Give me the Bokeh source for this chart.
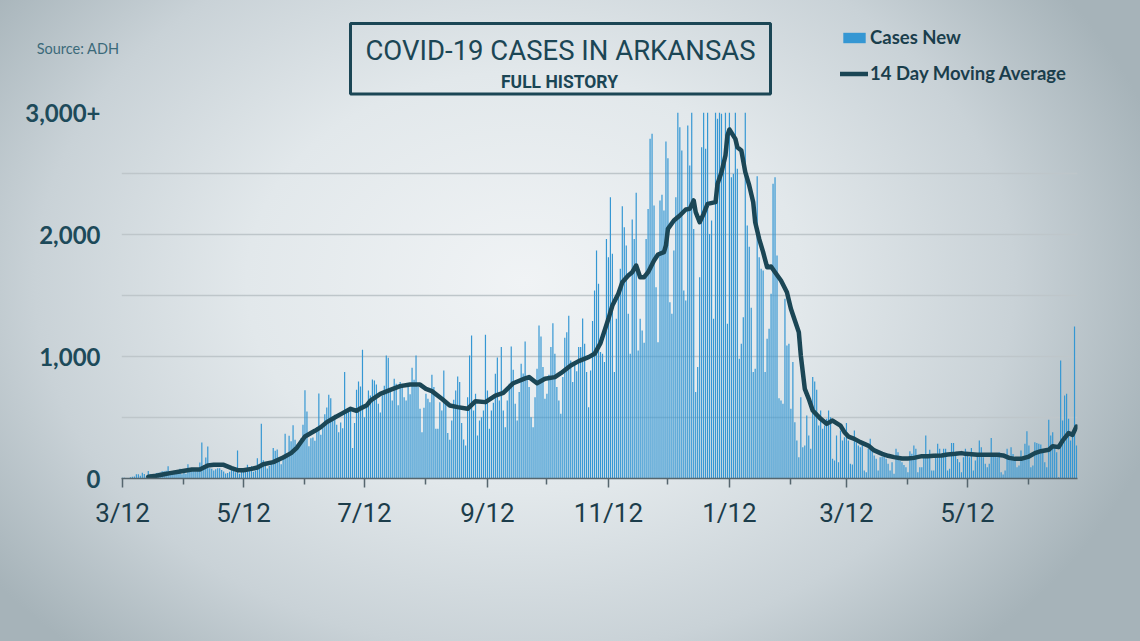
import pandas as pd
from bokeh.plotting import figure
from bokeh.layouts import column
from bokeh.models import (FixedTicker, Label, Legend, LegendItem, ColumnDataSource,
                          Range1d, BoxAnnotation, LinearAxis)
from bokeh.embed import file_html
from bokeh.resources import INLINE

# ---------------- data ----------------
start_date = "2020-03-12"

cases_new = [
    6, 6, 3, 4, 11, 15, 16,
    34, 34, 22, 47, 36, 17, 62,
    36, 32, 27, 46, 47, 50, 60,
    59, 64, 100, 56, 36, 42, 69,
    64, 80, 34, 51, 38, 117, 63,
    77, 65, 60, 62, 131, 295, 110,
    172, 262, 84, 80, 66, 75, 85,
    84, 70, 58, 42, 46, 55, 70,
    64, 51, 230, 38, 55, 68, 83,
    112, 95, 101, 55, 66, 167, 88,
    448, 150, 110, 82, 103, 141, 249,
    227, 238, 164, 117, 165, 366, 210,
    350, 305, 437, 317, 276, 276, 330,
    440, 724, 549, 265, 330, 336, 310,
    420, 697, 358, 413, 527, 582, 686,
    658, 490, 522, 440, 380, 460, 412,
    872, 560, 550, 555, 249, 454, 727,
    795, 754, 1055, 503, 600, 721, 680,
    811, 803, 770, 612, 540, 680, 760,
    1008, 989, 720, 639, 817, 776, 600,
    790, 776, 667, 639, 749, 690, 907,
    809, 1008, 749, 571, 380, 580, 694,
    653, 626, 850, 749, 407, 407, 626,
    557, 885, 612, 372, 317, 475, 645,
    721, 836, 790, 454, 320, 270, 667,
    1008, 1172, 557, 694, 352, 475, 503,
    557, 1178, 721, 407, 557, 620, 858,
    992, 639, 1077, 557, 420, 639, 776,
    1082, 891, 612, 475, 708, 940, 860,
    1123, 831, 749, 503, 420, 667, 900,
    1254, 1164, 913, 653, 694, 850, 1077,
    1273, 1022, 749, 640, 530, 831, 1153,
    1199, 1333, 967, 790, 954, 880, 1077,
    1077, 1311, 1104, 872, 585, 885, 1290,
    1541, 1869, 1596, 1036, 1022, 954, 1964,
    1814, 2306, 1842, 872, 1309, 1500, 1719,
    2232, 2060, 1910, 1350, 1022, 2123, 1964,
    2342, 1049, 1309, 1213, 1112, 1964, 2210,
    2784, 2825, 2238, 1568, 1117, 2279, 2325,
    2197, 2762, 2626, 1445, 1350, 1869, 2306,
    3000, 2880, 2689, 1541, 1459, 2893, 2566,
    3000, 2046, 708, 913, 1650, 2716, 3000,
    2702, 3000, 2005, 2115, 1309, 3000, 2948,
    3000, 2989, 2552, 3000, 1268, 3000, 2470,
    2497, 3000, 2538, 981, 1104, 1322, 3000,
    2074, 1900, 1400, 872, 900, 2478, 1814,
    1719, 1705, 872, 1145, 1227, 1514, 2415,
    2470, 1828, 658, 639, 612, 1473, 1090,
    1104, 571, 954, 462, 311, 175, 667,
    257, 270, 516, 352, 243, 831, 795,
    727, 434, 557, 407, 434, 489, 557,
    503, 161, 148, 352, 134, 393, 311,
    339, 454, 311, 120, 115, 393, 298,
    270, 257, 298, 66, 52, 243, 325,
    230, 189, 161, 66, 175, 180, 200,
    161, 120, 66, 134, 38, 243, 216,
    148, 134, 110, 93, 52, 224, 202,
    270, 243, 52, 93, 93, 189, 352,
    175, 235, 66, 66, 202, 284, 243,
    200, 243, 243, 66, 79, 292, 292,
    189, 160, 134, 52, 175, 243, 216,
    175, 251, 66, 148, 200, 311, 257,
    175, 120, 93, 120, 331, 200, 180,
    175, 216, 52, 33, 66, 243, 175,
    257, 200, 153, 93, 107, 230, 175,
    284, 388, 270, 93, 107, 298, 290,
    284, 279, 230, 134, 93, 481, 352,
    380, 257, 216, 11, 967, 475, 680,
    694, 489, 311, 366, 1246, 270,
]

# 14 day moving average, read as (days after start, value)
ma_days = [13, 17, 21, 24, 29, 35, 39, 43, 46, 51, 55, 58, 61, 65, 68, 71, 76, 81, 85, 88,
           92, 97, 100, 103, 107, 111, 115, 118, 120, 123, 125, 130, 135, 140, 145, 150, 153,
           156, 161, 165, 169, 174, 178, 183, 188, 192, 197, 203, 205, 209, 213, 218, 221,
           226, 230, 235, 238, 241, 245, 247, 250, 252, 255, 257, 259, 261, 263, 265, 268,
           270, 273, 274, 275, 278, 281, 284, 286, 288, 289, 291, 293, 295, 299, 300, 302,
           304, 305, 306, 309, 310, 312, 314, 316, 318, 319, 321, 323, 325, 327, 329, 332,
           335, 337, 339, 341, 342, 344, 346, 348, 352, 355, 358, 362, 364, 366, 369, 372,
           376, 379, 383, 386, 389, 393, 396, 399, 403, 406, 409, 413, 416, 420, 423, 425,
           428, 431, 435, 438, 441, 444, 447, 450, 453, 457, 460, 463, 467, 469, 472, 474,
           477, 479, 481]
ma_values = [15, 22, 35, 44, 57, 74, 74, 107, 112, 112, 85, 68, 68, 79, 90, 117, 134, 172, 208, 254,
             344, 391, 421, 462, 500, 536, 571, 555, 575, 598, 639, 694, 727, 757, 770, 770, 735,
             716, 653, 598, 585, 571, 634, 626, 680, 702, 781, 820, 831, 781, 817, 831, 863,
             926, 962, 995, 1022, 1110, 1309, 1418, 1514, 1609, 1664, 1691, 1746, 1650, 1650, 1691, 1787,
             1836, 1855, 1910, 2046, 2115, 2156, 2205, 2210, 2279, 2183, 2101, 2169, 2251, 2265, 2415, 2511,
             2648, 2811, 2861, 2784, 2716, 2689, 2511, 2402, 2265, 2101, 1964, 1855, 1732, 1738, 1691, 1623,
             1527, 1391, 1295, 1199, 1008, 735, 653, 557, 489, 448, 475, 434, 380, 344, 325, 298,
             270, 230, 202, 186, 175, 164, 164, 169, 183, 183, 186, 189, 197, 202, 208, 202,
             199, 194, 194, 194, 194, 189, 169, 161, 161, 180, 208, 224, 235, 265, 257, 311,
             372, 358, 426]

tick_dates = ["2020-03-12", "2020-05-12", "2020-07-12", "2020-09-12", "2020-11-12",
              "2021-01-12", "2021-03-12", "2021-05-12"]
tick_labels = ["3/12", "5/12", "7/12", "9/12", "11/12", "1/12", "3/12", "5/12"]
minor_tick_dates = ["2020-04-12", "2020-06-12", "2020-08-12", "2020-10-12", "2020-12-12",
                    "2021-02-12", "2021-04-12", "2021-06-12"]
y_ticks = [0, 1000, 2000, 3000]
y_tick_labels = ["0", "1,000", "2,000", "3,000+"]
y_grid = [500, 1000, 1500, 2000, 2500, 3000]

title_text = "COVID-19 CASES IN ARKANSAS"
subtitle_text = "FULL HISTORY"
source_text = "Source: ADH"
series_names = ["Cases New", "14 Day Moving Average"]

# ---------------- styles / layout ----------------
TEAL = "#1b4655"
BLUE = "#3597d3"
W = 1140
FL, FR = 121, 1077          # frame left / right (pixels)
TOP_H = 96                  # header strip height
CHART_H = 641 - TOP_H

t0 = pd.Timestamp(start_date)
day_index = list(range(len(cases_new)))
bars = ColumnDataSource(dict(day=day_index, cases=cases_new,
                             date=[str((t0 + pd.Timedelta(days=d)).date()) for d in day_index]))
line = ColumnDataSource(dict(day=ma_days, avg=ma_values))

# ---------------- header figure (title, source, legend) ----------------
head = figure(width=W, height=TOP_H, output_backend="svg", toolbar_location=None,
              x_range=Range1d(FL, FR), y_range=Range1d(TOP_H, 0),
              x_axis_location=None, y_axis_location=None,
              min_border_left=FL, min_border_right=W - FR,
              min_border_top=0, min_border_bottom=0)
head.border_fill_color = None
head.background_fill_color = None
head.outline_line_color = None
head.grid.visible = False

# source note as a tick-less left axis caption
src_axis = LinearAxis(ticker=FixedTicker(ticks=[]), axis_label=source_text,
                      axis_label_orientation="horizontal", axis_label_standoff=2,
                      axis_line_color=None, major_tick_line_color=None,
                      minor_tick_line_color=None, major_label_text_font_size="0px",
                      major_tick_out=0, major_tick_in=0, minor_tick_out=0,
                      major_label_standoff=0,
                      axis_label_text_font="Lato", axis_label_text_font_style="normal",
                      axis_label_text_font_size="14.5px", axis_label_text_color="#3c6a7a")
head.add_layout(src_axis, "left")

head.add_layout(BoxAnnotation(left=350, right=770, top=23, bottom=93.5,
                              fill_alpha=0, fill_color=None,
                              line_color=TEAL, line_alpha=1, line_width=3))
head.add_layout(Label(x=560, y=50, text=title_text, text_align="center",
                      text_baseline="alphabetic", text_font="Roboto",
                      text_font_size="27.5px", text_color=TEAL))
head.add_layout(Label(x=559, y=81, text=subtitle_text, text_align="center",
                      text_baseline="alphabetic", text_font="Roboto",
                      text_font_style="bold", text_font_size="17.5px", text_color=TEAL))

leg_bar = head.vbar(x="day", top="cases", width=0.6, source=bars, color=BLUE,
                    line_width=0, visible=False)
leg_line = head.line(x="day", y="avg", source=line, line_color=TEAL, line_width=4.5,
                     line_cap="round", visible=False)
legend = Legend(items=[LegendItem(label=series_names[0], renderers=[leg_bar]),
                       LegendItem(label=series_names[1], renderers=[leg_line])],
                location=(840 - FL, TOP_H - 84), orientation="vertical",
                padding=0, margin=0, spacing=14, border_line_color=None,
                background_fill_color=None, background_fill_alpha=0,
                glyph_width=28, glyph_height=13, label_standoff=2,
                label_text_font="Lato", label_text_font_size="18.5px",
                label_text_font_style="bold",
                label_text_color="#1a3e4c", label_height=14, label_text_baseline="middle",
                inactive_fill_alpha=0)
head.add_layout(legend, "center")

# ---------------- chart figure ----------------
major_pos = [(pd.Timestamp(d) - t0).days for d in tick_dates]
minor_pos = [(pd.Timestamp(d) - t0).days for d in minor_tick_dates]

p = figure(width=W, height=CHART_H, output_backend="svg", toolbar_location=None,
           x_range=Range1d(-0.5, len(cases_new) - 0.5), y_range=Range1d(0, 3000),
           min_border_left=FL, min_border_right=W - FR, min_border_top=112 - TOP_H,
           min_border_bottom=163)
p.border_fill_color = None
p.background_fill_color = None
p.outline_line_color = None

vb = p.vbar(x="day", top="cases", width=0.6, source=bars, color=BLUE, line_width=0)
ln = p.line(x="day", y="avg", source=line, line_color=TEAL, line_width=4.5,
            line_join="round", line_cap="round")

xa = p.xaxis[0]
xa.ticker = FixedTicker(ticks=major_pos, minor_ticks=minor_pos)
xa.major_label_overrides = {pos: lab for pos, lab in zip(major_pos, tick_labels)}
xa.axis_line_color = "#56666e"
xa.axis_line_width = 1.5
xa.major_tick_line_color = "#56666e"
xa.minor_tick_line_color = "#56666e"
xa.major_tick_line_width = 1.5
xa.minor_tick_line_width = 1.5
xa.major_tick_in = 0
xa.major_tick_out = 9
xa.minor_tick_in = 0
xa.minor_tick_out = 6
xa.major_label_standoff = 10
xa.major_label_text_font = "Roboto"
xa.major_label_text_font_size = "26px"
xa.major_label_text_color = "#1c3d4b"

ya = p.yaxis[0]
ya.ticker = FixedTicker(ticks=y_ticks)
ya.major_label_overrides = {t: lab for t, lab in zip(y_ticks, y_tick_labels)}
ya.axis_line_color = None
ya.major_tick_line_color = None
ya.minor_tick_line_color = None
ya.major_tick_out = 0
ya.major_tick_in = 0
ya.major_label_standoff = 21
ya.major_label_text_font = "Lato"
ya.major_label_text_font_size = "24px"
ya.major_label_text_font_style = "bold"
ya.major_label_text_color = "#1d4a5a"

p.xgrid.grid_line_color = None
p.ygrid.ticker = FixedTicker(ticks=y_grid)
p.ygrid.grid_line_color = "#bec6ca"
p.ygrid.grid_line_width = 1.5

layout = column(head, p, spacing=0,
                styles={"background": "radial-gradient(ellipse 58% 78% at 46% 44%, #f0f3f5 0%, #e2e8eb 42%, #c9d2d7 74%, #a6b3b9 100%)"})

html = file_html(layout, INLINE)
open("out.html", "w").write(html)
